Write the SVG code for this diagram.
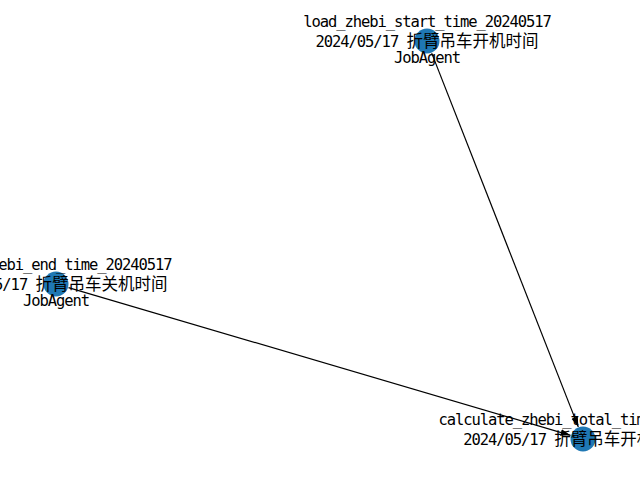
<svg xmlns="http://www.w3.org/2000/svg" width="640" height="480" viewBox="0 0 640 480">
<style>
.lat{font-family:"DejaVu Sans Mono","Liberation Mono",monospace;font-size:15.5px;letter-spacing:-1.08px}
.cjk{font-family:"Noto Sans CJK SC","Noto Sans CJK JP",sans-serif;font-size:16.5px}
text{fill:#000;text-anchor:middle}
.node{fill:#1f78b4}
.edge{stroke:#000;stroke-width:1.2;fill:none}
</style>
<defs>
<marker id="arr" markerUnits="userSpaceOnUse" markerWidth="11" markerHeight="8" refX="10" refY="4" orient="auto">
<path d="M0,0.6 L10,4 L0,7.4 z" fill="#000"/>
</marker>
</defs>
<rect width="640" height="480" fill="#fff"/>
<g id="edges">
<line class="edge" x1="431.7" y1="53.1" x2="578.3" y2="426.9" marker-end="url(#arr)"/>
<line class="edge" x1="68.5" y1="287.7" x2="570.5" y2="435.3" marker-end="url(#arr)"/>
</g>
<g id="node-start">
<circle class="node" cx="427" cy="41" r="12.5"/>
<text x="427" y="27"><tspan class="lat">load_zhebi_start_time_20240517</tspan></text>
<text x="427" y="47"><tspan class="lat">2024/05/17 </tspan><tspan class="cjk">折臂吊车开机时间</tspan></text>
<text x="427" y="63"><tspan class="lat">JobAgent</tspan></text>
</g>
<g id="node-end">
<circle class="node" cx="56" cy="284" r="12.5"/>
<text x="56" y="270"><tspan class="lat">load_zhebi_end_time_20240517</tspan></text>
<text x="56" y="290"><tspan class="lat">2024/05/17 </tspan><tspan class="cjk">折臂吊车关机时间</tspan></text>
<text x="56" y="306"><tspan class="lat">JobAgent</tspan></text>
</g>
<g id="node-total">
<circle class="node" cx="583" cy="439" r="12.5"/>
<text x="583" y="425"><tspan class="lat">calculate_zhebi_total_time_20240517</tspan></text>
<text x="583" y="445"><tspan class="lat">2024/05/17 </tspan><tspan class="cjk">折臂吊车开机总时长</tspan></text>
</g>
</svg>
